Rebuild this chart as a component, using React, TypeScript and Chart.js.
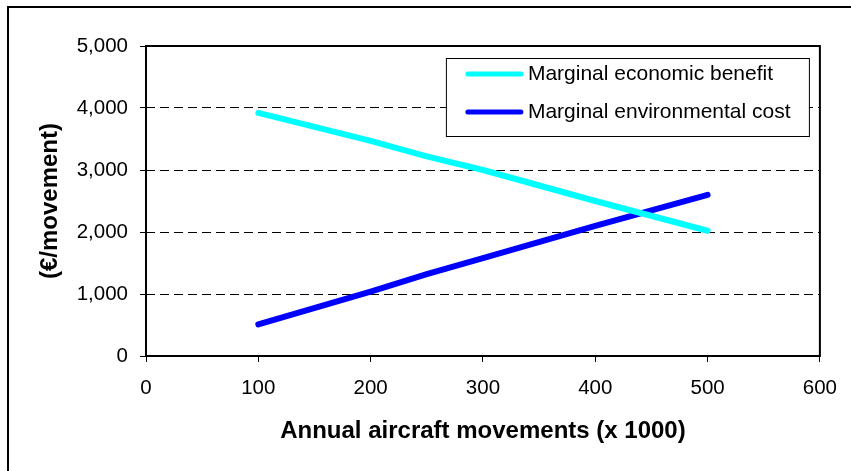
import { useEffect, useRef } from "react";
import { Chart, registerables } from "chart.js";

Chart.register(...registerables);

const movements = [100, 200, 250, 300, 400, 500];
const benefitValues = [3920, 3470, 3220, 3000, 2500, 2020];
const costValues = [510, 1040, 1320, 1580, 2100, 2600];
const seriesLabels = ["Marginal economic benefit", "Marginal environmental cost"];
const seriesColors = ["#00FFFF", "#0000FF"];
const xAxisTitle = "Annual aircraft movements (x 1000)";
const yAxisTitle = "(€/movement)";

const FONT = "'Liberation Sans', Arial, Helvetica, sans-serif";

const framePlugin = {
  id: "frameAndLegend",
  beforeDraw(chart: any) {
    const { ctx, width, height } = chart;
    ctx.save();
    ctx.fillStyle = "#ffffff";
    ctx.fillRect(0, 0, width, height);
    ctx.strokeStyle = "#000000";
    ctx.lineWidth = 2;
    ctx.beginPath();
    ctx.moveTo(8, height + 2);
    ctx.lineTo(8, 7);
    ctx.lineTo(width + 2, 7);
    ctx.stroke();
    ctx.restore();
  },
  afterDatasetsDraw(chart: any) {
    const { ctx, chartArea } = chart;
    ctx.save();
    // plot-area border
    ctx.strokeStyle = "#000000";
    ctx.lineWidth = 2;
    ctx.strokeRect(chartArea.left, chartArea.top, chartArea.right - chartArea.left, chartArea.bottom - chartArea.top);
    // legend box
    const w = 363;
    const h = 78;
    const right = chartArea.right - 11;
    const top = chartArea.top + 12;
    const left = right - w;
    ctx.fillStyle = "#ffffff";
    ctx.fillRect(left, top, w, h);
    ctx.lineWidth = 1;
    ctx.strokeRect(left + 0.5, top + 0.5, w, h);
    chart.data.datasets.forEach((ds: any, i: number) => {
      const y = top + 16 + i * 38;
      ctx.strokeStyle = ds.borderColor;
      ctx.lineWidth = 5;
      ctx.lineCap = "round";
      ctx.beginPath();
      ctx.moveTo(left + 22, y);
      ctx.lineTo(left + 75, y);
      ctx.stroke();
      ctx.fillStyle = "#000000";
      ctx.font = `21px ${FONT}`;
      ctx.textBaseline = "middle";
      ctx.textAlign = "left";
      ctx.fillText(ds.label, left + 82, y);
    });
    ctx.restore();
  },
};

export default function App() {
  const canvasRef = useRef<HTMLCanvasElement | null>(null);

  useEffect(() => {
    if (!canvasRef.current) return;
    const makePoints = (vals: number[]) => movements.map((x, i) => ({ x, y: vals[i] }));
    const chart = new Chart(canvasRef.current, {
      type: "line",
      data: {
        datasets: [
          {
            label: seriesLabels[0],
            data: makePoints(benefitValues),
            borderColor: seriesColors[0],
            backgroundColor: seriesColors[0],
            borderWidth: 6,
            pointRadius: 0,
            tension: 0,
            borderCapStyle: "round",
            borderJoinStyle: "round",
          },
          {
            label: seriesLabels[1],
            data: makePoints(costValues),
            borderColor: seriesColors[1],
            backgroundColor: seriesColors[1],
            borderWidth: 6,
            pointRadius: 0,
            tension: 0,
            borderCapStyle: "round",
            borderJoinStyle: "round",
          },
        ],
      },
      options: {
        responsive: false,
        animation: false,
        devicePixelRatio: 1,
        layout: { padding: { left: 0, top: 46, right: 31, bottom: 0 } },
        plugins: {
          legend: { display: false },
          tooltip: { enabled: false },
        },
        scales: {
          x: {
            type: "linear",
            min: 0,
            max: 600,
            afterFit: (s: any) => {
              s.height = 115;
            },
            ticks: {
              stepSize: 100,
              color: "#000",
              padding: 14,
              font: { family: FONT, size: 20.5 },
              maxRotation: 0,
            },
            grid: {
              drawOnChartArea: false,
              drawTicks: true,
              tickLength: 6,
              color: "#000",
              tickWidth: 1,
            },
            border: { display: false },
            title: {
              display: true,
              text: xAxisTitle,
              color: "#000",
              font: { family: FONT, size: 24, weight: "bold" },
              padding: { top: 0, bottom: 25.6 },
            },
          },
          y: {
            type: "linear",
            min: 0,
            max: 5000,
            afterFit: (s: any) => {
              s.width = 146;
            },
            ticks: {
              stepSize: 1000,
              color: "#000",
              padding: 12,
              font: { family: FONT, size: 20.5 },
              callback: (v: any) => Number(v).toLocaleString("en-US"),
            },
            grid: {
              drawTicks: true,
              tickLength: 6,
              color: "#000",
              lineWidth: 1,
              tickWidth: 1,
            },
            border: { display: false, dash: [9, 5] },
            title: {
              display: true,
              text: yAxisTitle,
              color: "#000",
              font: { family: FONT, size: 24, weight: "bold" },
              padding: { top: 35.6, bottom: 0 },
            },
          },
        },
      },
      plugins: [framePlugin],
    });
    return () => chart.destroy();
  }, []);

  return (
    <div style={{ position: "fixed", left: 0, top: 0, width: 851, height: 471, background: "#fff" }}>
      <canvas ref={canvasRef} width={851} height={471} style={{ display: "block" }} />
    </div>
  );
}
